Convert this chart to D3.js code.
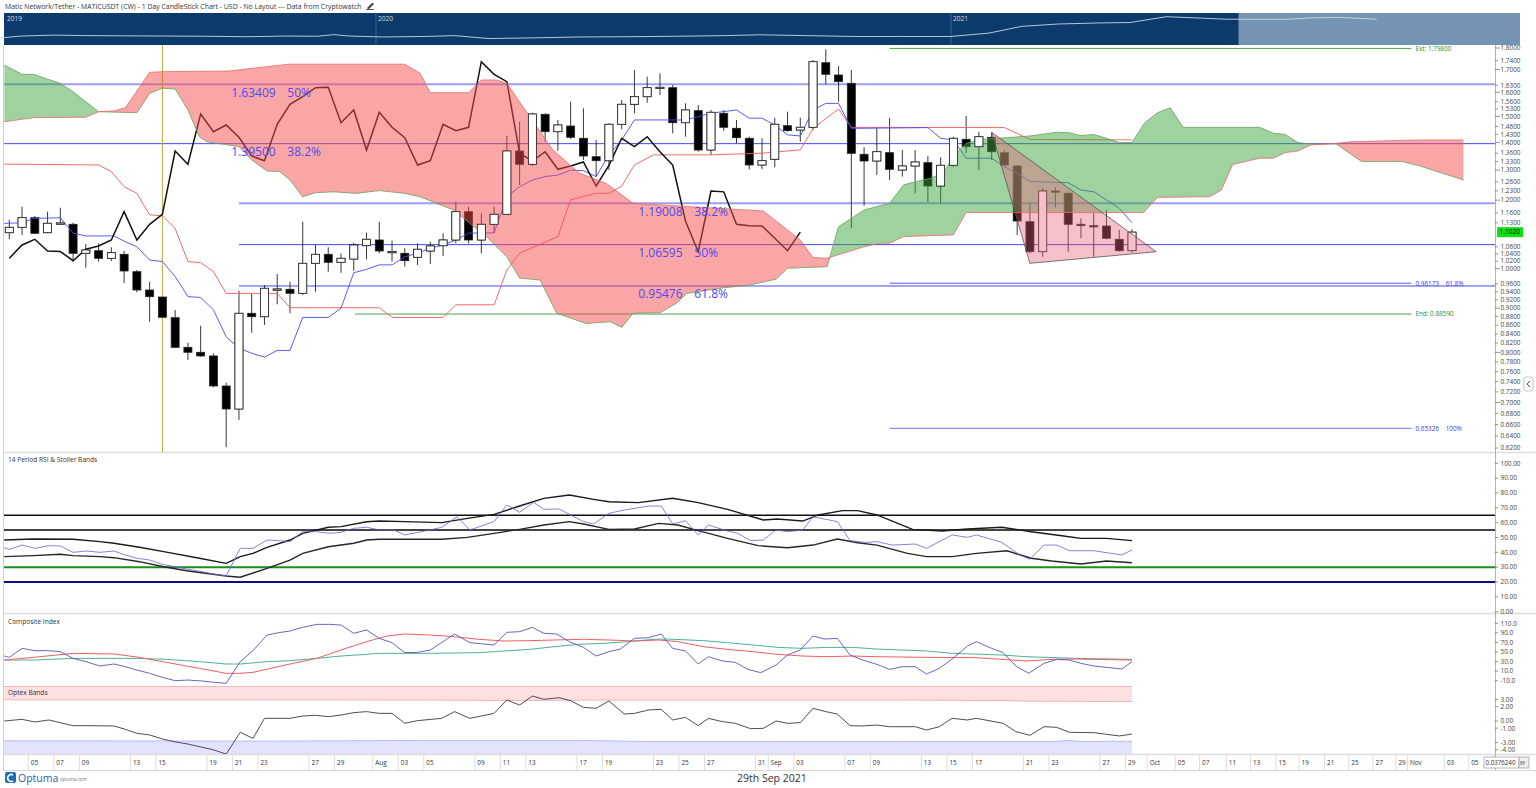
<!doctype html>
<head>
  <meta charset="utf-8">
  <script src="https://cdnjs.cloudflare.com/ajax/libs/d3/7.8.2/d3.min.js"></script>
</head>
<style>
  body { margin: 0; background: #fff; }
  svg text { font-family: "Open Sans", "Noto Sans", sans-serif; }
</style>
<body>
<div id="chart"></div>
<script>
// ---- daily candles, 3 Jul 2021 (index 0) to 29 Sep 2021 (index 88) ----
const opens = [1.1004,1.1163,1.1453,1.1004,1.1262,1.1253,1.0416,1.0489,1.0278,1.0388,0.9918,0.9446,0.9271,0.8774,0.8108,0.8001,0.7923,0.7314,0.6879,0.8877,
  0.8797,0.9464,0.9464,0.9363,1.0142,1.0388,1.0169,1.0259,1.0629,1.0792,1.0461,1.0416,1.0306,1.0480,1.0629,1.0792,1.1637,1.0792,1.1253,1.1557,
  1.3680,1.3204,1.5085,1.4402,1.4622,1.4151,1.3474,1.3331,1.4689,1.5493,1.5810,1.6193,1.6193,1.4751,1.5231,1.3716,1.5126,1.4533,1.4151,1.3179,
  1.3381,1.4634,1.4467,1.4572,1.7309,1.6751,1.6384,1.3560,1.3320,1.3618,1.3005,1.3144,1.3260,1.2462,1.3169,1.4113,1.3838,1.4189,1.3618,1.3144,
  1.1331,1.0461,1.2297,1.2222,1.1253,1.1211,1.1202,1.0812,1.0489];
const highs = [1.1383,1.1793,1.1505,1.1637,1.1762,1.1301,1.0677,1.0697,1.0584,1.0480,0.9963,0.9657,0.9271,0.8956,0.8208,0.8589,0.7980,0.7378,0.9428,0.9346,
  0.9572,0.9857,0.9657,1.1331,1.0649,1.0584,1.0416,1.0714,1.1004,1.1331,1.0772,1.0556,1.0697,1.0743,1.0986,1.1951,1.1793,1.1588,1.1793,1.4249,
  1.4791,1.5150,1.5126,1.4858,1.5600,1.5329,1.4087,1.4728,1.5671,1.6975,1.6675,1.6827,1.6310,1.5534,1.5464,1.5259,1.5259,1.4858,1.4211,1.4151,
  1.4949,1.5190,1.4949,1.7434,1.7938,1.7157,1.6975,1.3815,1.4556,1.4949,1.3716,1.3716,1.3499,1.3452,1.4211,1.5017,1.4402,1.4364,1.3716,1.3179,
  1.1878,1.2386,1.2419,1.2274,1.1434,1.1606,1.1690,1.1083,1.1104];
const lows = [1.0812,1.0937,1.0966,1.0986,1.1232,1.0186,1.0024,1.0186,1.0205,0.9616,0.9388,0.8681,0.8783,0.8087,0.7839,0.7908,0.7289,0.6212,0.6680,0.8430,
  0.8605,0.9093,0.8877,0.9321,0.9403,0.9918,0.9891,0.9944,1.0251,1.0416,1.0186,1.0051,1.0096,1.0123,1.0342,1.0697,1.0697,1.0416,1.0986,1.1535,
  1.2495,1.3144,1.4023,1.3691,1.4125,1.3356,1.2775,1.3005,1.4494,1.5126,1.5559,1.5881,1.4341,1.4211,1.3654,1.3535,1.4440,1.3964,1.3029,1.3029,
  1.3099,1.4402,1.4023,1.4467,1.6341,1.5600,1.1134,1.1825,1.2833,1.2663,1.2775,1.2222,1.1951,1.1900,1.3109,1.3596,1.3005,1.3356,1.3120,1.0937,
  1.0416,1.0322,1.1774,1.0461,1.0841,1.0322,1.0812,1.0461,1.0433];
const closes = [1.1163,1.1453,1.0986,1.1283,1.1292,1.0416,1.0508,1.0278,1.0433,0.9936,0.9446,0.9279,0.8783,0.8108,0.8001,0.7923,0.7314,0.6879,0.8877,0.8797,
  0.9489,0.9471,0.9363,1.0142,1.0388,1.0169,1.0278,1.0649,1.0812,1.0480,1.0465,1.0213,1.0528,1.0621,1.0792,1.1637,1.0792,1.1253,1.1557,1.3680,
  1.3204,1.5097,1.4402,1.4661,1.4189,1.3499,1.3331,1.4689,1.5493,1.5810,1.6193,1.6211,1.4751,1.5259,1.3716,1.5166,1.4572,1.4174,1.3179,1.3331,
  1.4689,1.4440,1.4572,1.7355,1.6782,1.6454,1.3596,1.3320,1.3654,1.3029,1.3144,1.3285,1.2462,1.3169,1.4151,1.3838,1.4211,1.3654,1.3179,1.1352,
  1.0461,1.2297,1.2269,1.1253,1.1211,1.1202,1.0841,1.0489,1.1020];
const lastPrice = 1.1020;

// ---- Ichimoku lines: [bar index, price] ----
const tenkan = [[-0.4,1.128],[1,1.130],[1.9,1.143],[4,1.145],[5,1.099],[6,1.091],[8.2,1.091],[9.1,1.074],[10,1.060],[11,1.023],[12,1.019],[13,0.979],
  [14,0.928],[15,0.926],[16,0.896],[17,0.834],[18,0.809],[19,0.798],[20,0.790],[21,0.804],[22,0.804],[23,0.878],[25,0.878],[26,0.900],[27,0.989],
  [28,0.998],[29,1.010],[30,1.010],[31,1.032],[32,1.042],[33,1.056],[34,1.065],[35,1.079],[36,1.099],[38,1.100],[39,1.211],[40,1.244],[41,1.266],
  [42,1.278],[43,1.283],[44,1.300],[45,1.298],[46,1.278],[47,1.354],[48,1.409],[49,1.486],[53,1.486],[54,1.499],[55,1.513],[57,1.526],[58,1.493],
  [59,1.493],[60,1.466],[61,1.428],[62,1.424],[63,1.526],[64,1.553],[65,1.553],[66,1.453],[72,1.456],[73,1.415],[74,1.409],[75,1.342],[77,1.342],
  [78,1.312],[79,1.289],[80,1.261],[83,1.257],[84,1.233],[85,1.227],[86,1.201],[87,1.174],[88,1.130]];
const kijun = [[-0.4,1.321],[7,1.318],[8,1.295],[9,1.244],[10,1.222],[11,1.154],[12,1.151],[13,1.113],[14,1.019],[15,1.016],[16,0.992],[17,0.936],
  [21,0.936],[22,0.901],[29,0.901],[30,0.878],[34,0.878],[35,0.908],[38,0.908],[39,0.996],[40,1.042],[43,1.089],[44,1.201],[46,1.222],[47,1.222],
  [48,1.246],[49,1.318],[50.5,1.354],[55,1.354],[59,1.360],[62,1.372],[63,1.453],[65,1.530],[66,1.457],[78,1.456],[80,1.411],[88,1.409]];
const senkouA = [[-0.4,1.720],[1,1.678],[1.9,1.678],[4,1.638],[5,1.602],[6,1.560],[7,1.519],[10,1.515],[11,1.595],[12,1.617],[13,1.614],[14,1.526],
  [14.9,1.421],[15.5,1.402],[18,1.384],[19,1.336],[20.2,1.297],[21.2,1.295],[22,1.266],[23,1.211],[24,1.224],[25.4,1.227],[27.2,1.222],[29,1.231],
  [31,1.222],[32.2,1.211],[34.8,1.169],[37.4,1.089],[39,1.032],[40,0.975],[41.6,0.970],[42.9,0.888],[45.2,0.864],[47.1,0.868],[48,0.855],[48.9,0.888],
  [51,0.889],[52.3,0.912],[53.1,0.936],[55.7,0.949],[58,0.957],[60.1,0.972],[61,1.001],[64.1,1.005],[65,1.118],[67,1.169],[69,1.190],[70.1,1.250],
  [71.1,1.261],[72.2,1.272],[73.2,1.291],[74.2,1.360],[75,1.396],[76.1,1.411],[78.7,1.419],[80,1.424],[82.1,1.438],[83.1,1.436],[84,1.425],[85,1.430],
  [86,1.415],[87,1.399],[88,1.399],[89,1.475],[90,1.515],[91,1.535],[92,1.457],[98,1.457],[99.1,1.434],[100,1.430],[101,1.399],[102,1.394],[104,1.394],
  [106,1.330],[109.2,1.330],[110.6,1.314],[112,1.294],[114,1.266]];
const senkouB = [[-0.4,1.479],[1.9,1.495],[6,1.497],[7,1.519],[8.2,1.522],[9.1,1.535],[11,1.687],[12,1.690],[17.2,1.693],[21.9,1.724],[31,1.724],
  [32.2,1.683],[33,1.598],[36,1.598],[37,1.653],[38.2,1.653],[39,1.638],[40.8,1.499],[42.6,1.372],[44.7,1.289],[46.8,1.255],[48.9,1.190],[59.1,1.166],
  [62,1.079],[63,1.030],[64.1,1.028],[67,1.060],[68.2,1.070],[69,1.070],[70.1,1.089],[74,1.094],[75,1.161],[88.9,1.161],[90,1.209],[94.1,1.211],
  [95,1.233],[95.9,1.320],[98,1.342],[99.1,1.342],[100,1.362],[101,1.368],[102,1.390],[104,1.396],[105.1,1.402],[110.6,1.409],[114,1.409]];

// ---- Fibonacci tools ----
const fibPrices = [1.63409, 1.39500, 1.19008, 1.06595, 0.95476];
const fibPcts = ['50%', '38.2%', '38.2%', '50%', '61.8%'];
const fibStart = [-1, -1, 18, 18, 18];
const extPrices = [1.79800, 0.96173, 0.88590, 0.65326];
const extLabels = ['Ext: 1.79800', '0.96173    61.8%', 'End: 0.88590', '0.65326    100%'];
const extStart = [69, 69, 27.1, 69];
const extEnd = 109.9;
const triangle = [[77, 1.4378], [80, 1.0142], [89.9, 1.0461]];
const markerBar = 12;

// ---- lower panels, [bar index, value] ----
const rsiUpper = [[-0.4,48.3],[1.9,49.0],[5,48.8],[7.1,47.2],[8.2,46.1],[10.2,43.4],[12.1,40.5],[14.9,36.0],[17,32.6],[18.1,37.1],[19.1,39.3],
  [20.2,43.4],[22,48.3],[23,52.8],[25,56.9],[26,57.3],[28,60.6],[29,61.1],[31,60.7],[33.9,60.0],[35.9,62.9],[38,65.6],[40,71.2],[41.9,76.4],
  [43.9,78.6],[45.8,75.7],[47,74.1],[49.3,73.5],[52,76.4],[54,73.5],[56.3,69.0],[59.1,61.8],[60.2,62.5],[62.2,61.1],[63.4,65.2],[65.3,68.1],
  [66.5,68.1],[68,65.2],[70.8,55.5],[73.1,54.4],[75.1,55.7],[77.8,56.9],[80.1,53.9],[82.5,51.2],[84,49.4],[86,49.4],[88,47.9]];
const rsiLower = [[-0.4,37.1],[1.9,37.8],[4,38.7],[5,37.8],[7.1,37.1],[8.2,36.4],[10.2,33.7],[12.1,30.3],[13.9,27.6],[17,24.1],[18.1,23.2],
  [20.2,29.2],[22,34.8],[23,39.3],[25,43.8],[27,46.1],[28,48.3],[29,48.8],[33.9,48.8],[35.9,50.1],[38,52.8],[40,55.5],[41.9,58.4],[43.9,60.7],
  [45,59.1],[47,55.5],[49,55.7],[50.9,59.5],[52.4,58.4],[54,54.6],[56.3,49.4],[58.7,44.5],[61,43.1],[63,44.9],[64.9,49.0],[66.5,46.5],[68,44.9],
  [70.4,39.3],[71.9,37.1],[73.9,37.1],[75.8,39.3],[78.2,41.1],[80.1,36.0],[81.7,34.2],[84,32.1],[86,34.2],[88,33.0]];
const rsi = [[-0.4,43.1],[0,42.0],[1,44.9],[2,42.7],[3.1,44.5],[4,44.3],[5,40.0],[6.1,40.9],[7.1,40.0],[8.2,40.9],[9.1,38.2],[10,36.0],[11,34.8],
  [12,31.9],[13,30.3],[14,28.6],[15.1,27.0],[16.1,25.2],[17,24.1],[18.1,42.7],[19.1,42.7],[20.2,48.3],[21.1,47.9],[22,47.2],[23,53.9],[24.1,53.9],
  [25.1,52.8],[26,53.5],[27,56.2],[28,56.9],[29,55.1],[30.1,55.1],[31,51.7],[33,55.1],[33.9,56.9],[35.1,64.0],[36.1,55.1],[38,60.7],[39,71.9],
  [40,67.0],[41.1,73.7],[41.9,69.0],[43.1,69.2],[45,60.7],[45.8,59.1],[47,66.3],[48.2,68.5],[50.1,71.2],[51.1,71.2],[52,59.1],[53,61.3],[54,51.7],
  [54.8,58.4],[56.3,54.4],[57.1,52.8],[58.1,47.9],[59.1,48.3],[60.1,55.1],[61,53.9],[62.2,55.1],[63,64.0],[64.9,60.7],[65.9,47.9],[67.1,46.7],
  [68,47.2],[69.2,44.9],[71,45.6],[71.9,42.7],[73.9,51.7],[75.1,50.1],[75.8,51.7],[77.8,46.7],[79.2,38.2],[80,35.3],[81.1,44.9],[82.1,44.9],
  [83.1,41.1],[85,41.1],[87.2,38.2],[88,41.6]];
const rsiLevels = [65, 55, 30, 20];

const composite = [[-0.4,41.6],[0,38.8],[1,57.6],[2,52.8],[3,52.8],[4,50.7],[5,36.7],[6,29.8],[7.1,20.7],[8.2,24.9],[9.1,19.3],[10,12.3],[11,5.4],
  [12,-3.0],[13,-10.0],[14,-8.6],[15.1,-10.7],[16.1,-13.4],[17,-15.5],[18.1,29.8],[19.1,52.8],[20.2,85.5],[21.1,90.4],[22,93.9],[23,101.5],
  [24.1,107.8],[25.1,107.8],[26,106.4],[27,89.0],[28,96.0],[29,78.5],[30,69.5],[31,48.6],[32,49.3],[33,54.2],[34.9,87.6],[36.1,69.5],[38,64.6],
  [39,91.1],[40,92.5],[41,101.5],[41.9,89.0],[42.9,87.6],[43.9,71.6],[45,59.7],[46,41.6],[47,50.7],[47.9,56.2],[49,78.5],[50.1,79.9],[51.1,87.6],
  [52,57.6],[53,52.1],[54,24.9],[54.8,40.2],[55.9,31.2],[56.9,28.4],[57.9,13.7],[58.9,6.8],[60.1,22.8],[61,43.7],[62,54.2],[63,83.4],[63.9,77.1],
  [64.9,78.5],[65.9,43.7],[66.9,33.2],[68,24.2],[69,13.7],[70,19.3],[71,19.3],[71.9,4.0],[72.9,15.8],[73.9,35.3],[75.1,62.5],[75.8,71.6],[77,57.6],
  [77.9,48.6],[78.9,20.7],[79.9,5.4],[81.1,26.3],[82.1,34.6],[83.1,33.2],[84,26.3],[85,20.7],[86,17.9],[87.2,14.4],[88,29.8]];
const compFast = [[-0.4,33.2],[1.9,38.8],[5,47.2],[8.2,45.8],[10.2,38.8],[12.3,28.4],[14.9,15.8],[17,5.4],[18.1,5.4],[19.1,7.5],[22,24.9],[24.1,36.7],
  [26,54.2],[28,71.6],[29.6,83.4],[31,87.6],[33,85.5],[34.9,82.0],[36.8,76.5],[38.8,73.0],[40.8,73.7],[42.7,75.1],[45,76.5],[47,75.1],[49,73.0],
  [50.9,75.1],[52.4,71.6],[54.4,61.1],[56.3,55.5],[58.3,50.7],[60.2,45.1],[62.2,41.6],[64.1,40.2],[66.1,41.6],[68,40.2],[71.9,38.8],[75.8,38.1],
  [77.8,34.6],[79.7,31.2],[81.7,34.6],[83.6,35.3],[88,33.2]];
const compSlow = [[-0.4,33.2],[1.9,33.2],[5,36.7],[10.2,36.7],[12.3,34.6],[14.9,29.8],[17,24.9],[18.1,24.9],[20.2,29.8],[22,31.8],[24.1,36.7],
  [26,41.6],[28,45.1],[29,47.2],[33,47.2],[36.8,48.6],[38.8,52.1],[40.8,55.5],[42.7,61.1],[44.6,66.0],[46.6,68.1],[48.5,71.6],[50.5,76.5],
  [51.6,77.1],[54.4,73.7],[56.3,69.5],[58.3,64.6],[60.2,59.7],[62.2,57.6],[64.1,59.7],[66.1,59.7],[68,56.2],[71.9,52.1],[73.9,47.2],[77.8,43.7],
  [79.7,40.2],[83.6,36.7],[88,34.6]];

const optex = [[-0.4,0],[1,0.23],[2,-0.14],[3.1,0.14],[5,-0.65],[6.1,-0.65],[8.2,-0.69],[9.1,-1.16],[10,-1.71],[11,-1.94],[12,-2.5],[13,-2.9],
  [14,-3.2],[15,-3.6],[16,-4.0],[17,-4.6],[18.1,-1.57],[19.1,-2.41],[20,0.37],[22,0.37],[23,0.69],[24,0.79],[25,0.6],[26,0.83],[27,1.16],[28,1.3],
  [29,1.06],[30,1.06],[31,-0.32],[32,0.05],[33.9,0.37],[34.9,1.3],[36.1,0.37],[38,1.06],[39,2.92],[40,2.22],[41,3.47],[41.9,3.01],[43.1,3.24],
  [44,2.82],[45,1.9],[46,1.76],[47,2.78],[48.2,0.97],[49,1.06],[50.1,1.53],[51.1,1.62],[52,0.14],[53,0.51],[54,-0.65],[54.8,0.37],[55.9,-0.09],
  [56.9,-0.32],[58.1,-1.06],[59.1,-1.02],[60.1,0],[61,-0.32],[62,-0.23],[63,1.76],[64,1.3],[64.9,0.97],[65.9,-0.65],[66.9,-0.69],[68,-0.56],
  [69,-0.79],[71,-0.79],[71.9,-1.25],[72.9,-0.79],[73.9,0.37],[75.1,0.14],[75.8,0.37],[77.9,-0.32],[78.9,-1.48],[80,-1.99],[81.1,-0.79],
  [82.1,-0.88],[83.1,-1.57],[85,-1.62],[86,-1.85],[87,-2.08],[88,-1.81]];
const optexUpper = [[-0.4,2.95],[20,2.95],[33,2.9],[40,2.85],[46,2.9],[60,2.9],[70,2.9],[78,2.85],[80,2.75],[88,2.7]];
const optexLower = [[-0.4,-2.75],[20,-2.8],[32,-2.7],[45,-2.7],[50,-2.85],[60,-2.85],[70,-2.85],[82,-2.85],[83,-2.7],[84,-2.85],[88,-2.8]];

// ---- navigator (whole history) ----
const navDates = ['2019-04-26','2019-05-05','2019-05-20','2019-06-10','2019-07-01','2019-07-25','2019-08-20','2019-09-15','2019-10-10','2019-11-05',
  '2019-11-25','2019-12-05','2019-12-15','2020-01-05','2020-02-01','2020-02-20','2020-03-13','2020-04-10','2020-05-10','2020-06-10','2020-07-10',
  '2020-08-10','2020-09-01','2020-10-01','2020-11-01','2020-12-01','2021-01-01','2021-01-25','2021-02-15','2021-03-10','2021-04-05','2021-04-25',
  '2021-05-18','2021-06-10','2021-06-25','2021-07-03','2021-08-01','2021-08-20','2021-09-05','2021-09-29'];
const navPrices = [0.0045,0.012,0.02,0.025,0.022,0.021,0.02,0.019,0.017,0.02,0.019,0.028,0.02,0.016,0.018,0.022,0.011,0.013,0.016,0.017,0.019,
  0.022,0.027,0.022,0.018,0.018,0.018,0.04,0.2,0.35,0.45,0.5,2.0,1.4,1.1,1.1,1.05,1.55,1.7,1.1];
const navYears = ['2019', '2020', '2021'];

// ---- axis labels ----
const priceTicks = [1.80,1.74,1.70,1.63,1.60,1.56,1.53,1.50,1.46,1.43,1.40,1.36,1.33,1.30,1.26,1.23,1.20,1.16,1.13,1.06,1.04,1.02,1.00,
  0.96,0.94,0.92,0.90,0.88,0.86,0.84,0.82,0.80,0.78,0.76,0.74,0.72,0.70,0.68,0.66,0.64,0.62];
const priceMajor = [1.8,1.7,1.6,1.5,1.4,1.3,1.2,1.0,0.9,0.8,0.7];
const rsiTicks = [100,90,80,70,60,50,40,30,20,10,0];
const compTicks = [110,90,70,50,30,10,-10];
const optexTicks = [3,2,0,-1,-3,-4];
const dateTicks = [[2,'05'],[4,'07'],[6,'09'],[10,'13'],[12,'15'],[16,'19'],[18,'21'],[20,'23'],[24,'27'],[26,'29'],[29,'Aug'],[31,'03'],[33,'05'],
  [37,'09'],[39,'11'],[41,'13'],[45,'17'],[47,'19'],[51,'23'],[53,'25'],[55,'27'],[59,'31'],[60,'Sep'],[62,'03'],[66,'07'],[68,'09'],[72,'13'],
  [74,'15'],[76,'17'],[80,'21'],[82,'23'],[86,'27'],[88,'29'],[89.7,'Oct'],[91.9,'05'],[93.8,'07'],[95.9,'11'],[97.8,'13'],[99.8,'15'],
  [101.6,'19'],[103.6,'21'],[105.5,'25'],[107.4,'27'],[109.2,'29'],[110.1,'Nov'],[113,'03'],[114.9,'05']];

// =================== drawing ===================
const W = 1536, H = 788;
const L = 4, R = 1495;
const svg = d3.select('#chart').append('svg').attr('width', W).attr('height', H);
const defs = svg.append('defs');

const x = d3.scaleLinear().domain([0, 88]).range([9.3, 1132]);
const y = d3.scaleLog().domain([0.62, 1.8]).range([448, 48]);
const yR = d3.scaleLinear().domain([0, 100]).range([611.7, 463.3]);
const yC = d3.scaleLinear().domain([-10, 110]).range([680.7, 623.3]);
const yO = d3.scaleLinear().domain([-4, 3]).range([749.8, 699.4]);

function clip(id, x0, y0, w, h) {
  defs.append('clipPath').attr('id', id).append('rect').attr('x', x0).attr('y', y0).attr('width', w).attr('height', h);
}
clip('cMain', L, 45, R - L, 407);
clip('cRsi', L, 453, R - L, 160);
clip('cComp', L, 614, R - L, 72);
clip('cOpt', L, 686, R - L, 68);

// title
svg.append('text').attr('x', 5).attr('y', 9).attr('font-size', 6.9).attr('fill', '#333')
  .text('Matic Network/Tether - MATICUSDT (CW) - 1 Day CandleStick Chart - USD - No Layout --- Data from Cryptowatch');
svg.append('path').attr('d', 'M366,9.5 L374,9.5 M367.5,8 L372.5,3 L373.5,4 L368.5,9 Z').attr('stroke', '#333').attr('stroke-width', 0.8).attr('fill', '#333');

// navigator
const navX = d3.scaleTime().domain([new Date(2020, 0, 1), new Date(2021, 0, 1)]).range([376, 951]);
const navY = d3.scaleLog().domain([0.003, 3]).range([44, 15]);
svg.append('rect').attr('x', L).attr('y', 13).attr('width', 1516).attr('height', 32).attr('fill', '#0c3a6b');
svg.append('rect').attr('x', navX(new Date(2021, 6, 3))).attr('y', 13).attr('width', 1520 - navX(new Date(2021, 6, 3))).attr('height', 32).attr('fill', '#7594b4');
navYears.forEach((yr, i) => {
  const xx = i === 0 ? 5 : navX(new Date(+yr, 0, 1));
  if (i > 0) svg.append('line').attr('x1', xx).attr('x2', xx).attr('y1', 13).attr('y2', 45).attr('stroke', '#4a6c95').attr('stroke-width', 0.8);
  svg.append('text').attr('x', xx + 2).attr('y', 21).attr('font-size', 6.6).attr('fill', '#d5dde8').text(yr);
});
svg.append('path').datum(navDates.map((d, i) => [new Date(d), navPrices[i]]))
  .attr('d', d3.line().x(d => navX(d[0])).y(d => navY(d[1])))
  .attr('fill', 'none').attr('stroke', '#c9d5e2').attr('stroke-width', 0.9);

// panel frames
[[452.5], [613.5], [754.5]].forEach(([yy]) => {
  svg.append('line').attr('x1', L).attr('x2', 1536).attr('y1', yy).attr('y2', yy).attr('stroke', '#dcdcdc').attr('stroke-width', 1.5);
});
svg.append('line').attr('x1', 3.5).attr('x2', 3.5).attr('y1', 45).attr('y2', 770).attr('stroke', '#cfcfcf').attr('stroke-width', 1);
svg.append('line').attr('x1', R + 0.5).attr('x2', R + 0.5).attr('y1', 45).attr('y2', 770).attr('stroke', '#a0a0a0').attr('stroke-width', 0.8);

// ---------- main panel ----------
const gM = svg.append('g').attr('clip-path', 'url(#cMain)');
const ptLine = (ys) => d3.line().x(d => x(d[0])).y(d => ys(d[1]));

// fib retracement lines
fibPrices.forEach((p, i) => {
  const heavy = (i === 0 || i === 2);
  gM.append('line').attr('x1', Math.max(L, x(fibStart[i]))).attr('x2', R).attr('y1', y(p)).attr('y2', y(p))
    .attr('stroke', heavy ? '#9d9df6' : '#4646ea').attr('stroke-width', heavy ? 2 : 1);
});
// fib extension lines
extPrices.forEach((p, i) => {
  const green = extLabels[i].startsWith('Ext') || extLabels[i].startsWith('End');
  gM.append('line').attr('x1', x(extStart[i])).attr('x2', x(extEnd)).attr('y1', y(p)).attr('y2', y(p))
    .attr('stroke', green ? '#4da24d' : '#8f8ff3').attr('stroke-width', green ? 1 : 1.4);
});
// vertical marker
gM.append('line').attr('x1', x(markerBar)).attr('x2', x(markerBar)).attr('y1', 45).attr('y2', 452)
  .attr('stroke', '#b5ae3c').attr('stroke-width', 1);

// candles
const candles = closes.map((c, i) => ({ i, o: opens[i], h: highs[i], l: lows[i], c }));
const bodyY = d => y(Math.max(d.o, d.c));
const bodyH = d => Math.max(1.2, Math.abs(y(d.o) - y(d.c)));
gM.append('g').selectAll('line').data(candles).join('line')
  .attr('x1', d => x(d.i)).attr('x2', d => x(d.i)).attr('y1', d => y(d.h)).attr('y2', d => y(d.l))
  .attr('stroke', '#222').attr('stroke-width', 0.9);
gM.append('g').selectAll('rect').data(candles).join('rect')
  .attr('x', d => x(d.i) - 4).attr('width', 8).attr('y', bodyY).attr('height', bodyH)
  .attr('fill', d => d.c >= d.o ? '#fff' : '#000').attr('stroke', '#222').attr('stroke-width', 0.8);

// tenkan / kijun / chikou
gM.append('path').datum(kijun).attr('d', ptLine(y)).attr('fill', 'none').attr('stroke', '#ee5a5a').attr('stroke-width', 0.9);
gM.append('path').datum(tenkan).attr('d', ptLine(y)).attr('fill', 'none').attr('stroke', '#4848f2').attr('stroke-width', 0.9);
const chikou = closes.slice(26).map((c, j) => [j, c]);
gM.append('path').datum(chikou).attr('d', ptLine(y)).attr('fill', 'none').attr('stroke', '#111').attr('stroke-width', 1.5);

// cloud
const aPix = senkouA.map(d => [x(d[0]), y(d[1])]);
const bPix = senkouB.map(d => [x(d[0]), y(d[1])]);
const poly = aPix.concat(bPix.slice().reverse());
const toPath = pts => 'M' + pts.map(p => p[0].toFixed(1) + ',' + p[1].toFixed(1)).join('L') + 'Z';
const bFirst = bPix[0], bLast = bPix[bPix.length - 1];
defs.append('clipPath').attr('id', 'cUp').append('path').attr('d', toPath(bPix.concat([[bLast[0], 0], [bFirst[0], 0]])));
defs.append('clipPath').attr('id', 'cDn').append('path').attr('d', toPath(bPix.concat([[bLast[0], 1000], [bFirst[0], 1000]])));
gM.append('path').attr('d', toPath(poly)).attr('fill', 'rgba(62,165,62,0.5)').attr('clip-path', 'url(#cUp)');
gM.append('path').attr('d', toPath(poly)).attr('fill', 'rgba(245,78,78,0.5)').attr('clip-path', 'url(#cDn)');
gM.append('path').datum(senkouA).attr('d', ptLine(y)).attr('fill', 'none').attr('stroke', '#6a9f5c').attr('stroke-width', 0.8);
gM.append('path').datum(senkouB).attr('d', ptLine(y)).attr('fill', 'none').attr('stroke', '#e86a6a').attr('stroke-width', 0.8);

// hollow bodies stay white above the cloud
gM.append('g').selectAll('rect').data(candles.filter(d => d.c >= d.o)).join('rect')
  .attr('x', d => x(d.i) - 4).attr('width', 8).attr('y', bodyY).attr('height', bodyH)
  .attr('fill', '#fff').attr('stroke', '#222').attr('stroke-width', 0.8);

// descending triangle
gM.append('path').attr('d', toPath(triangle.map(d => [x(d[0]), y(d[1])])))
  .attr('fill', 'rgba(232,98,122,0.4)').attr('stroke', '#555').attr('stroke-width', 0.8);

// fib labels
fibPrices.forEach((p, i) => {
  const x0 = i < 2 ? x(17.4) : x(49.3);
  const g = gM.append('g').attr('font-size', 12).attr('fill', '#4b4bf2');
  g.append('text').attr('x', x0).attr('y', y(p) + 12.5).text(p.toFixed(5));
  g.append('text').attr('x', x0 + 56).attr('y', y(p) + 12.5).text(fibPcts[i]);
});
extPrices.forEach((p, i) => {
  const green = extLabels[i].startsWith('Ext') || extLabels[i].startsWith('End');
  svg.append('text').attr('x', x(extEnd) + 4).attr('y', y(p) + 2.3).attr('font-size', 6.4)
    .attr('fill', green ? '#2e8b2e' : '#3a3ae0').attr('xml:space', 'preserve').text(extLabels[i]);
});

// price axis
priceTicks.forEach(p => {
  const yy = y(p), major = priceMajor.includes(p);
  svg.append('line').attr('x1', R).attr('x2', R + (major ? 5 : 3)).attr('y1', yy).attr('y2', yy).attr('stroke', '#666').attr('stroke-width', 0.7);
  svg.append('text').attr('x', R + 5.5).attr('y', yy + 2.3).attr('font-size', 6.4).attr('fill', '#444').text(p.toFixed(4));
});
svg.append('rect').attr('x', R + 2).attr('y', y(lastPrice) - 5).attr('width', 26).attr('height', 10).attr('fill', '#10e010');
svg.append('text').attr('x', R + 4.5).attr('y', y(lastPrice) + 2.3).attr('font-size', 6.6).attr('fill', '#000').text(lastPrice.toFixed(4));
svg.append('rect').attr('x', 1524).attr('y', 377).attr('width', 9).attr('height', 14).attr('rx', 2)
  .attr('fill', '#fff').attr('stroke', '#bbb').attr('stroke-width', 0.8);
svg.append('path').attr('d', 'M1530,381 L1527,384 L1530,387').attr('fill', 'none').attr('stroke', '#555').attr('stroke-width', 1);

// ---------- RSI panel ----------
const gR = svg.append('g').attr('clip-path', 'url(#cRsi)');
const rsiStyle = [['#111', 1.4], ['#444', 2], ['#1f8c1f', 2], ['#0a0a8a', 2]];
rsiLevels.forEach((v, i) => {
  gR.append('line').attr('x1', L).attr('x2', R).attr('y1', yR(v)).attr('y2', yR(v))
    .attr('stroke', rsiStyle[i][0]).attr('stroke-width', rsiStyle[i][1]);
});
gR.append('path').datum(rsiUpper).attr('d', ptLine(yR)).attr('fill', 'none').attr('stroke', '#1a1a1a').attr('stroke-width', 1.4);
gR.append('path').datum(rsiLower).attr('d', ptLine(yR)).attr('fill', 'none').attr('stroke', '#262626').attr('stroke-width', 1.4);
gR.append('path').datum(rsi).attr('d', ptLine(yR)).attr('fill', 'none').attr('stroke', '#6464d2').attr('stroke-width', 0.8);
svg.append('text').attr('x', 8).attr('y', 462).attr('font-size', 6.6).attr('fill', '#333').text('14 Period RSI & Stoller Bands');
rsiTicks.forEach(v => {
  svg.append('line').attr('x1', R).attr('x2', R + 3).attr('y1', yR(v)).attr('y2', yR(v)).attr('stroke', '#666').attr('stroke-width', 0.7);
  svg.append('text').attr('x', R + 5.5).attr('y', yR(v) + 2.3).attr('font-size', 6.4).attr('fill', '#444').text(v.toFixed(2));
});

// ---------- Composite panel ----------
const gC = svg.append('g').attr('clip-path', 'url(#cComp)');
gC.append('path').datum(compSlow).attr('d', ptLine(yC)).attr('fill', 'none').attr('stroke', '#4fae9c').attr('stroke-width', 1);
gC.append('path').datum(compFast).attr('d', ptLine(yC)).attr('fill', 'none').attr('stroke', '#f25e5e').attr('stroke-width', 1);
gC.append('path').datum(composite).attr('d', ptLine(yC)).attr('fill', 'none').attr('stroke', '#5656b8').attr('stroke-width', 0.9);
svg.append('text').attr('x', 8).attr('y', 624).attr('font-size', 6.6).attr('fill', '#333').text('Composite Index');
compTicks.forEach(v => {
  svg.append('line').attr('x1', R).attr('x2', R + 3).attr('y1', yC(v)).attr('y2', yC(v)).attr('stroke', '#666').attr('stroke-width', 0.7);
  svg.append('text').attr('x', R + 5.5).attr('y', yC(v) + 2.3).attr('font-size', 6.4).attr('fill', '#444').text(v.toFixed(1));
});

// ---------- Optex panel ----------
const gO = svg.append('g').attr('clip-path', 'url(#cOpt)');
const lastBar = closes.length - 1;
gO.append('path').datum(optexUpper)
  .attr('d', d3.area().x(d => x(d[0])).y0(686).y1(d => yO(d[1]))).attr('fill', '#fde0e0');
gO.append('path').datum(optexUpper).attr('d', ptLine(yO)).attr('fill', 'none').attr('stroke', '#f4b4b4').attr('stroke-width', 1);
gO.append('path').datum(optexLower)
  .attr('d', d3.area().x(d => x(d[0])).y0(754).y1(d => yO(d[1]))).attr('fill', '#e2e2fd');
gO.append('path').datum(optexLower).attr('d', ptLine(yO)).attr('fill', 'none').attr('stroke', '#b9b9f4').attr('stroke-width', 1);
gO.append('line').attr('x1', L).attr('x2', x(lastBar)).attr('y1', 686.5).attr('y2', 686.5).attr('stroke', '#f0b8b8').attr('stroke-width', 1);
gO.append('path').datum(optex).attr('d', ptLine(yO)).attr('fill', 'none').attr('stroke', '#3a3a3a').attr('stroke-width', 0.9);
svg.append('text').attr('x', 8).attr('y', 695).attr('font-size', 6.6).attr('fill', '#333').text('Optex Bands');
optexTicks.forEach(v => {
  svg.append('line').attr('x1', R).attr('x2', R + 3).attr('y1', yO(v)).attr('y2', yO(v)).attr('stroke', '#666').attr('stroke-width', 0.7);
  svg.append('text').attr('x', R + 5.5).attr('y', yO(v) + 2.3).attr('font-size', 6.4).attr('fill', '#444').text(v.toFixed(2));
});

// ---------- date axis ----------
svg.append('line').attr('x1', L).attr('x2', 1536).attr('y1', 770.5).attr('y2', 770.5).attr('stroke', '#d8d8d8');
dateTicks.forEach(([i, lab]) => {
  const xx = x(i);
  if (xx > R - 4) return;
  svg.append('line').attr('x1', xx - 6.5).attr('x2', xx - 6.5).attr('y1', 755).attr('y2', 770).attr('stroke', '#d4d4d4').attr('stroke-width', 0.8);
  svg.append('text').attr('x', xx - 4).attr('y', 765).attr('font-size', 6.4).attr('fill', '#333').text(lab);
});
svg.append('rect').attr('x', 1484).attr('y', 757).attr('width', 35).attr('height', 11).attr('fill', '#fff').attr('stroke', '#999').attr('stroke-width', 0.7);
svg.append('text').attr('x', 1485.5).attr('y', 765).attr('font-size', 6.2).attr('fill', '#333').text('0.0376240');
svg.append('rect').attr('x', 1519).attr('y', 757).attr('width', 10).attr('height', 11).attr('fill', '#eee').attr('stroke', '#888').attr('stroke-width', 0.6);
svg.append('text').attr('x', 1520).attr('y', 764.5).attr('font-size', 4.5).attr('fill', '#222').text('XY');

// footer
svg.append('rect').attr('x', 5).attr('y', 772).attr('width', 11).attr('height', 11).attr('rx', 2).attr('fill', '#1f6db5');
svg.append('path').attr('d', 'M13,775 A3.5,3.5 0 1 0 13,781').attr('fill', 'none').attr('stroke', '#fff').attr('stroke-width', 1.6);
svg.append('text').attr('x', 18).attr('y', 782).attr('font-size', 10.5).attr('fill', '#2364a8').text('Optuma');
svg.append('text').attr('x', 60).attr('y', 781).attr('font-size', 4.5).attr('fill', '#777').text('optuma.com');
svg.append('text').attr('x', 737).attr('y', 782).attr('font-size', 10.5).attr('fill', '#333').text('29th Sep 2021');
</script>
</body>
